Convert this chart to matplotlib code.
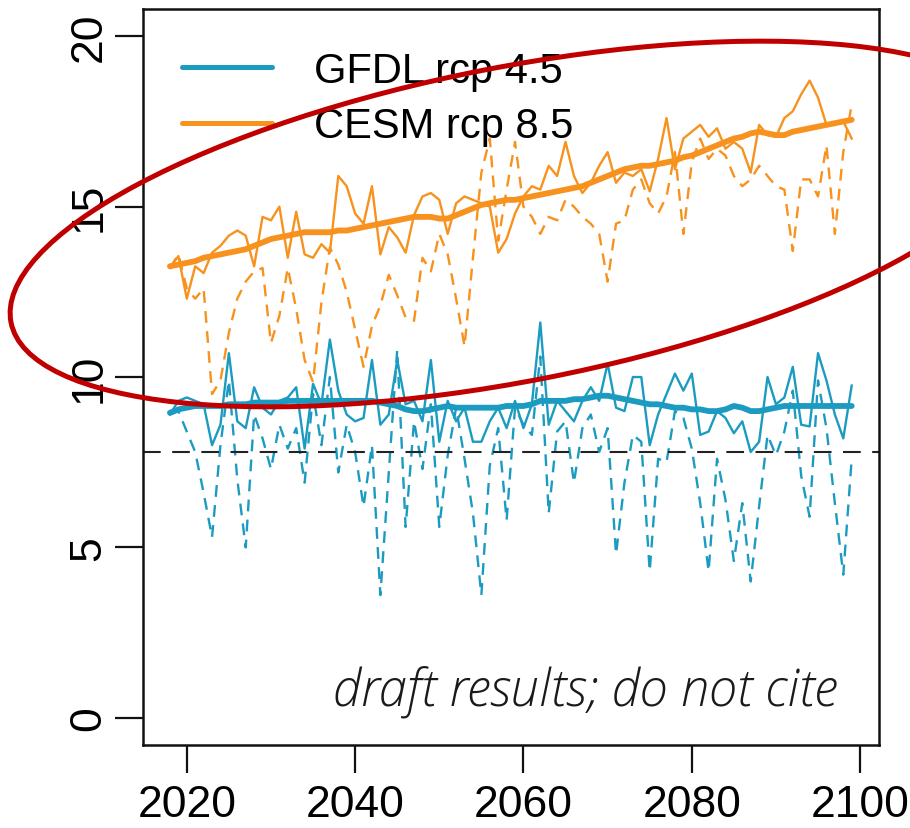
import numpy as np
import matplotlib
matplotlib.use("Agg")
import matplotlib.pyplot as plt
from matplotlib.patches import Ellipse

plt.rcParams["font.family"] = ["Liberation Sans", "DejaVu Sans"]

years = np.arange(2018, 2100)

gfdl_annual = [
    8.9, 9.3, 9.4, 9.3, 9.2, 8.0, 8.6, 10.7, 8.7, 8.5,
    9.7, 9.1, 8.9, 9.3, 9.4, 9.7, 7.9, 9.8, 9.2, 11.1,
    9.6, 8.9, 8.7, 8.8, 10.5, 8.6, 8.9, 10.5, 9.2, 9.3,
    8.7, 10.5, 8.1, 9.3, 8.7, 9.1, 8.1, 8.1, 8.7, 9.1,
    8.5, 9.3, 8.5, 9.2, 11.6, 8.6, 9.3, 9.0, 8.7, 9.3,
    9.7, 9.3, 10.4, 9.1, 9.0, 10.0, 10.0, 8.0, 8.9, 9.5,
    10.1, 9.6, 10.1, 8.3, 8.4, 9.0, 8.8, 8.35, 8.7, 7.8,
    8.1, 10.0, 9.2, 9.4, 10.3, 8.6, 8.55, 10.7, 9.9, 8.9,
    8.2, 9.75,
]
gfdl_low = [
    8.9, 9.0, 8.4, 7.8, 6.6, 5.3, 8.0, 9.9, 7.0, 5.0,
    8.9, 8.2, 7.3, 8.6, 7.9, 8.5, 6.9, 9.5, 8.0, 10.0,
    7.2, 8.6, 7.8, 6.2, 8.0, 3.6, 7.2, 10.8, 5.6, 8.7,
    7.3, 9.2, 5.6, 7.7, 9.1, 7.6, 6.0, 3.6, 7.4, 8.5,
    5.8, 9.1, 8.6, 8.3, 10.6, 6.0, 8.4, 8.7, 6.9, 8.5,
    8.9, 7.8, 8.5, 4.8, 6.9, 8.3, 8.1, 4.3, 7.6, 7.5,
    9.0, 8.8, 7.9, 6.3, 4.3, 7.6, 6.4, 4.6, 6.3, 4.0,
    6.2, 8.3, 7.7, 8.4, 9.6, 7.1, 5.9, 9.9, 8.5, 6.3,
    4.2, 7.6,
]
gfdl_trend = [
    8.95, 9.05, 9.1, 9.15, 9.15, 9.15, 9.15, 9.2, 9.2, 9.2,
    9.25, 9.25, 9.25, 9.25, 9.3, 9.3, 9.3, 9.3, 9.3, 9.3,
    9.3, 9.3, 9.3, 9.3, 9.3, 9.25, 9.2, 9.15, 9.05, 9.0,
    9.0, 9.05, 9.1, 9.15, 9.1, 9.1, 9.1, 9.1, 9.1, 9.1,
    9.15, 9.15, 9.15, 9.2, 9.3, 9.3, 9.3, 9.3, 9.35, 9.35,
    9.4, 9.45, 9.45, 9.4, 9.35, 9.3, 9.25, 9.2, 9.2, 9.15,
    9.1, 9.1, 9.05, 9.05, 9.0, 9.0, 9.05, 9.15, 9.1, 9.0,
    9.0, 9.05, 9.1, 9.15, 9.15, 9.15, 9.15, 9.15, 9.15, 9.15,
    9.15, 9.15,
]

cesm_annual = [
    13.2, 13.55, 12.3, 13.25, 13.05, 13.65, 13.85, 14.15, 14.3, 14.15,
    13.25, 14.7, 14.6, 15.0, 13.5, 14.85, 13.6, 13.5, 13.9, 13.65,
    15.9, 15.6, 14.8, 14.5, 15.6, 13.6, 14.4, 14.1, 13.65, 14.75,
    15.3, 15.4, 15.2, 14.2, 15.1, 15.3, 15.2, 15.1, 15.0, 13.65,
    14.05, 14.8, 15.3, 15.6, 15.5, 16.2, 15.9, 16.9, 15.9, 15.4,
    15.7, 16.2, 16.6, 15.7, 16.0, 15.9, 16.1, 15.45, 16.4, 17.6,
    16.1, 17.0, 17.2, 17.4, 17.05, 17.3, 16.7, 16.9, 16.7, 16.0,
    17.4, 17.1, 17.05, 17.6, 17.8, 18.3, 18.7, 18.2, 17.4, 17.4,
    17.5, 17.0,
]
cesm_low = [
    13.2, 13.6, 12.6, 12.3, 12.6, 9.5, 9.9, 11.3, 12.3, 12.8,
    13.1, 13.2, 11.0, 11.8, 13.2, 12.0, 10.5, 9.85, 12.2, 13.8,
    13.3, 12.5, 11.4, 10.3, 11.5, 12.1, 13.0, 12.4, 11.75, 11.65,
    13.5, 13.1, 14.2, 13.6, 12.3, 10.9, 13.5, 16.0, 17.0, 14.0,
    15.5, 16.9, 15.0, 14.7, 14.2, 14.7, 14.6, 15.2, 15.0, 14.7,
    14.5, 14.2, 12.8, 14.5, 14.6, 15.5, 15.8, 15.1, 14.8, 15.3,
    16.6, 14.2, 16.3, 17.0, 16.4, 16.7, 16.5, 15.9, 15.6, 15.8,
    16.2, 15.9, 15.6, 15.5, 13.7, 15.8, 15.8, 15.3, 16.8, 14.2,
    16.6, 18.0,
]
cesm_trend = [
    13.25, 13.3, 13.35, 13.4, 13.5, 13.55, 13.6, 13.65, 13.7, 13.75,
    13.85, 13.95, 14.05, 14.1, 14.15, 14.2, 14.25, 14.25, 14.25, 14.25,
    14.3, 14.3, 14.35, 14.4, 14.45, 14.5, 14.55, 14.6, 14.65, 14.7,
    14.7, 14.7, 14.65, 14.65, 14.75, 14.85, 14.95, 15.05, 15.1, 15.15,
    15.2, 15.2, 15.25, 15.3, 15.35, 15.4, 15.45, 15.5, 15.55, 15.6,
    15.7, 15.8, 15.9, 16.0, 16.1, 16.15, 16.2, 16.2, 16.25, 16.3,
    16.35, 16.45, 16.5, 16.6, 16.7, 16.8, 16.9, 17.0, 17.05, 17.15,
    17.2, 17.15, 17.1, 17.1, 17.2, 17.25, 17.3, 17.35, 17.4, 17.45,
    17.5, 17.55,
]

threshold = 7.8
labels = ["GFDL rcp 4.5", "CESM rcp 8.5"]
x_ticks = [2020, 2040, 2060, 2080, 2100]
y_ticks = [0, 5, 10, 15, 20]

TEAL = "#1c9bc1"
ORANGE = "#f7921e"

fig = plt.figure(figsize=(9.1, 8.29), dpi=100)
ax = fig.add_axes([0.1568, 0.1001, 0.8091, 0.8878])

for color, low, annual, trend, label in [
    (TEAL, gfdl_low, gfdl_annual, gfdl_trend, labels[0]),
    (ORANGE, cesm_low, cesm_annual, cesm_trend, labels[1]),
]:
    ax.plot(years, low, color=color, lw=1.7, ls=(0, (5, 3.5)))
    ax.plot(years, annual, color=color, lw=1.7)
    ax.plot(years, trend, color=color, lw=4.2, solid_capstyle="round", label=label)

ax.axhline(threshold, color="#222222", lw=1.5, ls=(0, (8.5, 5.5)))

ax.set_xlim(2014.76, 2102.24)
ax.set_ylim(-0.8, 20.8)
ax.set_xticks(x_ticks)
ax.set_yticks(y_ticks)
ax.set_yticklabels([str(v) for v in y_ticks], rotation=90, va="center")
ax.tick_params(axis="both", labelsize=32, length=20, width=1.6, color="#111111")
ax.tick_params(axis="x", pad=8)
ax.tick_params(axis="y", pad=4)
for s in ax.spines.values():
    s.set_linewidth(1.8)
    s.set_color("#111111")

leg = ax.legend(loc="upper left", bbox_to_anchor=(0.0534, 0.943), frameon=False,
                fontsize=30, handlelength=2.16, handletextpad=1.0, labelspacing=0.37,
                borderpad=0, borderaxespad=0)
for h in leg.get_lines():
    h.set_linewidth(3.6)

ax.text(0.944, 0.0557, "draft results; do not cite", transform=ax.transAxes,
        ha="right", va="baseline", fontsize=36.5, style="italic", family="Open Sans",
        fontweight="light", color="#1a1a1a")

# hand-drawn highlight around the CESM series
fig.add_artist(Ellipse((5.15, 6.04), 10.27, 3.14, angle=11.05, transform=fig.dpi_scale_trans,
                       fill=False, ec="#c00000", lw=3.6))

fig.savefig("out.png", dpi=100)
